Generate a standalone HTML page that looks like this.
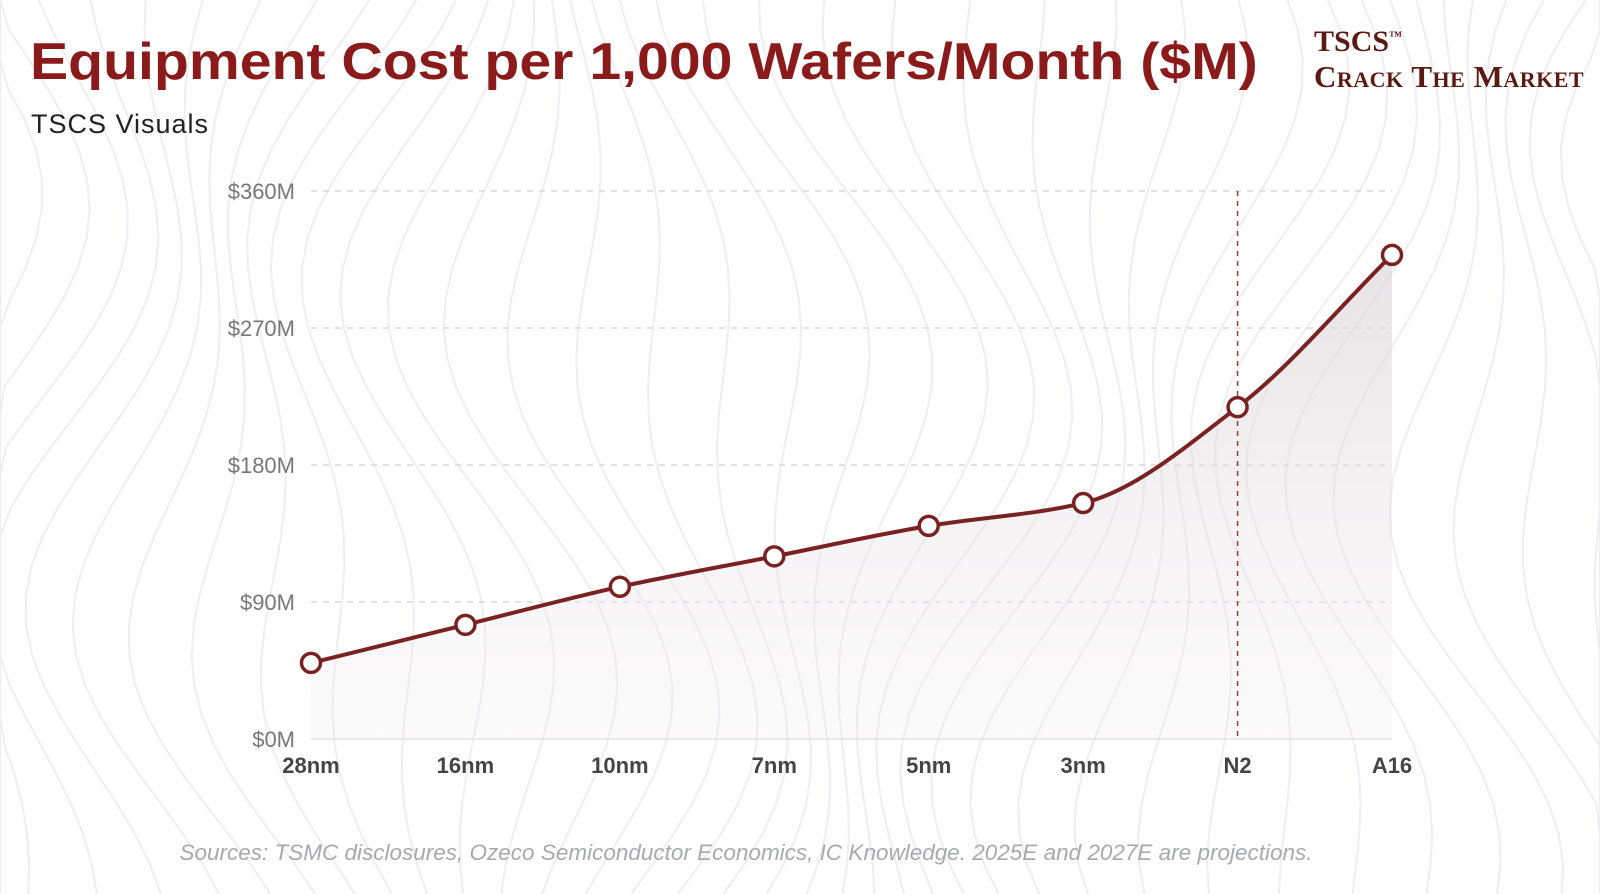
<!DOCTYPE html>
<html><head><meta charset="utf-8">
<style>
body{margin:0;width:1600px;height:894px;background:#fff;overflow:hidden;font-family:"Liberation Sans",sans-serif;}
#wrap{position:relative;width:1600px;height:894px;overflow:hidden;}
#title{position:absolute;left:30px;top:32px;font-size:52px;font-weight:bold;color:#8b1a1a;white-space:nowrap;transform-origin:0 0;transform:scaleX(1.1);}
#sub{position:absolute;left:31px;top:109px;font-size:27px;color:#222;letter-spacing:1px;}
#logo1{position:absolute;left:1314px;top:25px;font-family:"Liberation Serif",serif;font-size:30px;color:#5a1a12;font-weight:bold;}
#logo2{position:absolute;left:1314px;top:59px;font-family:"Liberation Serif",serif;font-size:31px;color:#5a1a12;font-variant:small-caps;font-weight:bold;letter-spacing:0.5px;white-space:nowrap;}
#src{position:absolute;left:0;width:1492px;text-align:center;top:840px;font-size:22.5px;font-style:italic;color:#a8a8b0;}
svg{position:absolute;left:0;top:0;overflow:hidden;}
</style></head><body>
<div id="wrap">
<svg id="chart" width="1600" height="894"></svg>
<div id="title">Equipment Cost per 1,000 Wafers/Month ($M)</div>
<div id="sub">TSCS Visuals</div>
<div id="logo1">TSCS<sup style="font-size:13px">™</sup></div>
<div id="logo2">Crack The Market</div>
<div id="src">Sources: TSMC disclosures, Ozeco Semiconductor Economics, IC Knowledge. 2025E and 2027E are projections.</div>
</div>
<script>
const categories=["28nm","16nm","10nm","7nm","5nm","3nm","N2","A16"];
const values=[50,75,100,120,140,155,218,318];
const yTicks=[0,90,180,270,360];
const yTickLabels=["$0M","$90M","$180M","$270M","$360M"];
const markerCategory="N2";

const NS="http://www.w3.org/2000/svg";
const svg=document.getElementById('chart');
const x0=311,x1=1392,yBase=739,yTop=191,yMax=360;
const xs=i=>x0+(x1-x0)*i/(categories.length-1);
const ys=v=>yBase-(yBase-yTop)*v/yMax;
function mk(t,a){const e=document.createElementNS(NS,t);for(const k in a)e.setAttribute(k,a[k]);svg.appendChild(e);return e;}

const defs=mk('defs',{});
defs.innerHTML='<linearGradient id="fg" x1="0" y1="0" x2="0" y2="1"><stop offset="0" stop-color="#d8d0d4" stop-opacity="0.6"/><stop offset="1" stop-color="#eeeaec" stop-opacity="0.2"/></linearGradient>';
for(let k=0;k<40;k++){
  const bx=-100+k*45;
  let d='';
  for(let y=0;y<=894;y+=894/30){const off=60*Math.sin(y/180+k*0.25)+40*Math.sin(y/90-k*0.4);const px=Math.min(1600,Math.max(0,bx+off));d+=(d?' L':'M')+`${px},${y}`;}
  const p=mk('path',{d:d,fill:'none',stroke:'#efedf1','stroke-width':2});
  
  
}

yTicks.forEach((t,i)=>{
  const g=mk('line',{x1:x0,x2:x1,y1:ys(t),y2:ys(t),stroke:i===0?'#e4e4e8':'#d8d8de','stroke-width':1.5,'stroke-dasharray':i===0?'':'6,6'});
  
  
  const l=mk('text',{x:295,y:ys(t)+8,'text-anchor':'end','font-size':22,fill:'#777','font-family':'Liberation Sans, sans-serif'});
  l.textContent=yTickLabels[i];
  
  
});
categories.forEach((c,i)=>{
  const l=mk('text',{x:xs(i),y:773,'text-anchor':'middle','font-size':22,'font-weight':'bold',fill:'#444','font-family':'Liberation Sans, sans-serif'});
  l.textContent=c;
  
  
});

const P=values.map((v,i)=>[xs(i),ys(v)]);
const n=P.length,m=[],dk=[];
for(let i=0;i<n-1;i++)dk.push((P[i+1][1]-P[i][1])/(P[i+1][0]-P[i][0]));
for(let i=0;i<n;i++){if(i===0)m.push(dk[0]);else if(i===n-1)m.push(dk[n-2]);else m.push(dk[i-1]*dk[i]<=0?0:2/(1/dk[i-1]+1/dk[i]));}
let d=`M${P[0][0]},${P[0][1]}`;
for(let i=0;i<n-1;i++){const h=(P[i+1][0]-P[i][0])/3;d+=` C${P[i][0]+h},${P[i][1]+m[i]*h} ${P[i+1][0]-h},${P[i+1][1]-m[i+1]*h} ${P[i+1][0]},${P[i+1][1]}`;}
const area=mk('path',{d:d+` L${P[n-1][0]},${yBase} L${P[0][0]},${yBase} Z`,fill:'url(#fg)'});



const mi=categories.indexOf(markerCategory);
const vl=mk('line',{x1:xs(mi),x2:xs(mi),y1:yTop,y2:yBase,stroke:'#a03838','stroke-width':1.5,'stroke-dasharray':'5,5'});



const line=mk('path',{d:d,fill:'none',stroke:'#7a2222','stroke-width':4});


P.forEach(p=>{
  const c=mk('circle',{cx:p[0],cy:p[1],r:9.5,fill:'#fff',stroke:'#7a2222','stroke-width':3.5});
  
  
});
</script>
</body></html>
